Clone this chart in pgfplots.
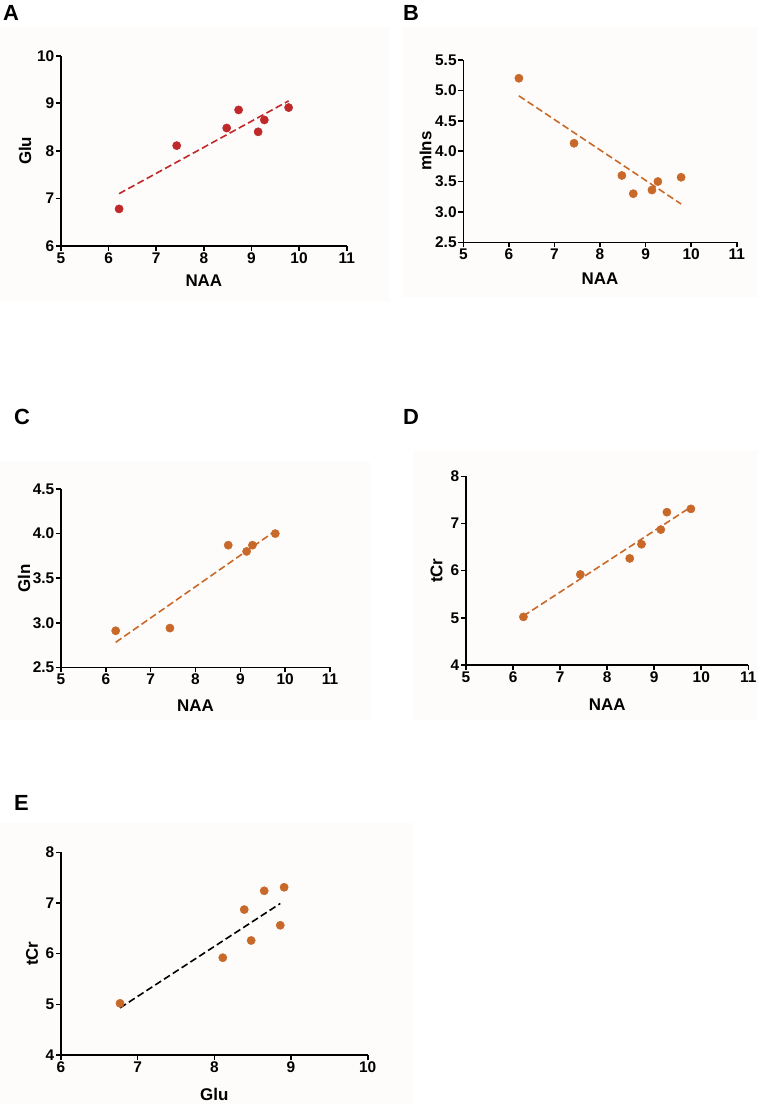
\documentclass[border=0pt]{standalone}
\usepackage{fontspec}
\setmainfont{Liberation Sans}
\usepackage{pgfplots}
\pgfplotsset{compat=1.18}
\definecolor{bgc}{RGB}{253,252,250}
\definecolor{redc}{RGB}{192,40,42}
\definecolor{orc}{RGB}{200,105,42}
\pgfplotsset{
  panel/.style={
    scale only axis,
    anchor=south west,
    axis lines=left,
    axis line style={-, line width=1.6bp, black},
    tick style={line width=1.6bp, black},
    tick align=outside,
    major tick length=5bp,
    /pgf/number format/assume math mode=true,
    tick label style={font=\bfseries\fontsize{15.5}{15.5}\selectfont, inner sep=1.5bp},
    label style={font=\bfseries\fontsize{17}{17}\selectfont, inner sep=0pt},
    xlabel style={at={(axis description cs:0.5,0)}, anchor=north},
    clip=false,
  },
  pts/.style={only marks, color=#1, mark=*, mark size=4.1bp, mark options={solid, draw=#1, fill=#1, line width=0.5bp}},
  fit/.style={no marks, line width=1.6bp, dash pattern=on 7bp off 3.5bp, color=#1},
}
\begin{document}
\begin{tikzpicture}
\path (0,0) rectangle (758bp,-1104bp);
% backgrounds
\fill[bgc] (0bp,-27bp) rectangle (390bp,-302bp);
\fill[bgc] (402bp,-27bp) rectangle (758bp,-297bp);
\fill[bgc] (0bp,-462bp) rectangle (370bp,-720bp);
\fill[bgc] (414bp,-450bp) rectangle (758bp,-720bp);
\fill[bgc] (0bp,-823bp) rectangle (413bp,-1104bp);
% panel letters
\node[anchor=north west, inner sep=0pt, font=\bfseries\fontsize{22}{22}\selectfont] at (3bp,-5bp) {A};
\node[anchor=north west, inner sep=0pt, font=\bfseries\fontsize{22}{22}\selectfont] at (403bp,-5bp) {B};
\node[anchor=north west, inner sep=0pt, font=\bfseries\fontsize{22}{22}\selectfont] at (14bp,-409bp) {C};
\node[anchor=north west, inner sep=0pt, font=\bfseries\fontsize{22}{22}\selectfont] at (403bp,-409bp) {D};
\node[anchor=north west, inner sep=0pt, font=\bfseries\fontsize{22}{22}\selectfont] at (14bp,-795bp) {E};

% A
\begin{axis}[panel, at={(61bp,-246bp)}, width=285.7bp, height=190.3bp,
  xmin=5, xmax=11, ymin=6, ymax=10, xtick={5,...,11}, ytick={6,...,10},
  xlabel={NAA}, ylabel={Glu},
  xlabel style={yshift=-29bp},
  ylabel style={at={(axis description cs:-0.126,0.5)}, anchor=center}]
\addplot[fit=redc] coordinates {(6.22,7.10) (9.78,9.05)};
\addplot[pts=redc] coordinates {(6.22,6.78) (7.43,8.11) (8.48,8.48) (8.73,8.86) (9.14,8.40) (9.27,8.65) (9.78,8.91)};
\end{axis}

% B
\begin{axis}[panel, at={(463.3bp,-242.3bp)}, width=273.4bp, height=182.3bp,
  xmin=5, xmax=11, ymin=2.5, ymax=5.5, xtick={5,...,11}, ytick={2.5,3.0,...,5.5},
  yticklabel style={/pgf/number format/.cd, fixed, fixed zerofill, precision=1},
  xlabel={NAA}, ylabel={mIns},
  xlabel style={yshift=-30bp},
  ylabel style={at={(axis description cs:-0.1376,0.5)}, anchor=center}]
\addplot[fit=orc] coordinates {(6.22,4.91) (9.78,3.13)};
\addplot[pts=orc] coordinates {(6.22,5.20) (7.43,4.13) (8.48,3.60) (8.73,3.30) (9.14,3.36) (9.27,3.50) (9.78,3.57)};
\end{axis}

% C
\begin{axis}[panel, at={(61bp,-667.3bp)}, width=269bp, height=178.3bp,
  xmin=5, xmax=11, ymin=2.5, ymax=4.5, xtick={5,...,11}, ytick={2.5,3.0,...,4.5},
  yticklabel style={/pgf/number format/.cd, fixed, fixed zerofill, precision=1},
  xlabel={NAA}, ylabel={Gln},
  xlabel style={yshift=-32bp},
  ylabel style={at={(axis description cs:-0.1375,0.5)}, anchor=center}]
\addplot[fit=orc] coordinates {(6.22,2.78) (9.78,4.03)};
\addplot[pts=orc] coordinates {(6.22,2.91) (7.43,2.94) (8.73,3.87) (9.14,3.80) (9.27,3.87) (9.78,4.00)};
\end{axis}

% D
\begin{axis}[panel, at={(466bp,-665bp)}, width=282.3bp, height=188.7bp,
  xmin=5, xmax=11, ymin=4, ymax=8, xtick={5,...,11}, ytick={4,...,8},
  xlabel={NAA}, ylabel={tCr},
  xlabel style={yshift=-34bp},
  ylabel style={at={(axis description cs:-0.104,0.5)}, anchor=center}]
\addplot[fit=orc] coordinates {(6.22,5.04) (9.78,7.35)};
\addplot[pts=orc] coordinates {(6.22,5.02) (7.43,5.92) (8.48,6.26) (8.73,6.56) (9.14,6.87) (9.27,7.24) (9.78,7.31)};
\end{axis}

% E
\begin{axis}[panel, at={(61bp,-1055bp)}, width=306.7bp, height=202.7bp,
  xmin=6, xmax=10, ymin=4, ymax=8, xtick={6,...,10}, ytick={4,...,8},
  xlabel={Glu}, ylabel={tCr},
  xlabel style={yshift=-33bp},
  ylabel style={at={(axis description cs:-0.0946,0.5)}, anchor=center}]
\addplot[fit=black] coordinates {(6.77,4.93) (8.86,6.99)};
\addplot[pts=orc] coordinates {(6.77,5.02) (8.11,5.92) (8.39,6.87) (8.48,6.26) (8.65,7.24) (8.86,6.56) (8.91,7.31)};
\end{axis}
\end{tikzpicture}
\end{document}
